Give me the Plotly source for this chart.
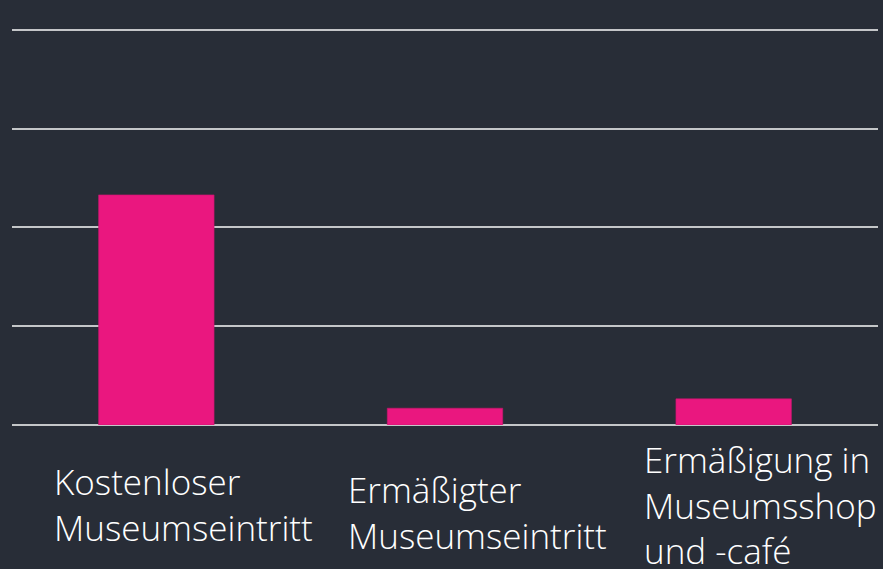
import plotly.graph_objects as go

categories = ["Kostenloser Museumseintritt", "Ermäßigter Museumseintritt", "Ermäßigung in Museumsshop und -café"]
values = [23.3, 1.7, 2.65]
tick_labels = ["Kostenloser<br>Museumseintritt", "Ermäßigter<br>Museumseintritt", "Ermäßigung in<br>Museumsshop<br>und -café"]

BG = "#282D37"
BAR = "#EA177F"
GRID = "#C4C6C8"

fig = go.Figure(go.Bar(
    x=categories, y=values,
    marker=dict(color=BAR, line=dict(color="#C8166E", width=0.6)),
    width=0.4,
    hoverinfo="skip",
))

# label placement (left edge in category units, vertical centre in paper units)
label_x = [-0.362, 0.656, 1.681]
label_y = [-0.198, -0.2177, -0.2005]
for cat, txt, lx, ly in zip(categories, tick_labels, label_x, label_y):
    fig.add_annotation(
        x=lx, xref="x", y=ly, yref="paper",
        text=txt, showarrow=False, xanchor="left", yanchor="middle", align="left",
        font=dict(family="Open Sans", size=35, color="#FFFFFF", weight=300),
    )

fig.update_layout(
    width=883, height=569,
    paper_bgcolor=BG, plot_bgcolor=BG,
    margin=dict(l=12, r=5, t=25, b=143.5),
    showlegend=False,
    xaxis=dict(showticklabels=False, showgrid=False, zeroline=False, showline=False,
               range=[-0.5, 2.5], type="category", fixedrange=True),
    yaxis=dict(showticklabels=False, range=[0, 40.5], dtick=10, tick0=0, tickmode="linear",
               showgrid=True, gridcolor=GRID, gridwidth=1.5, fixedrange=True,
               zeroline=True, zerolinecolor=GRID, zerolinewidth=1.5, showline=False),
)
fig.write_html("out.html", config={"displayModeBar": False},
               post_script="document.body.style.margin='0';document.body.style.background='" + BG + "';")
